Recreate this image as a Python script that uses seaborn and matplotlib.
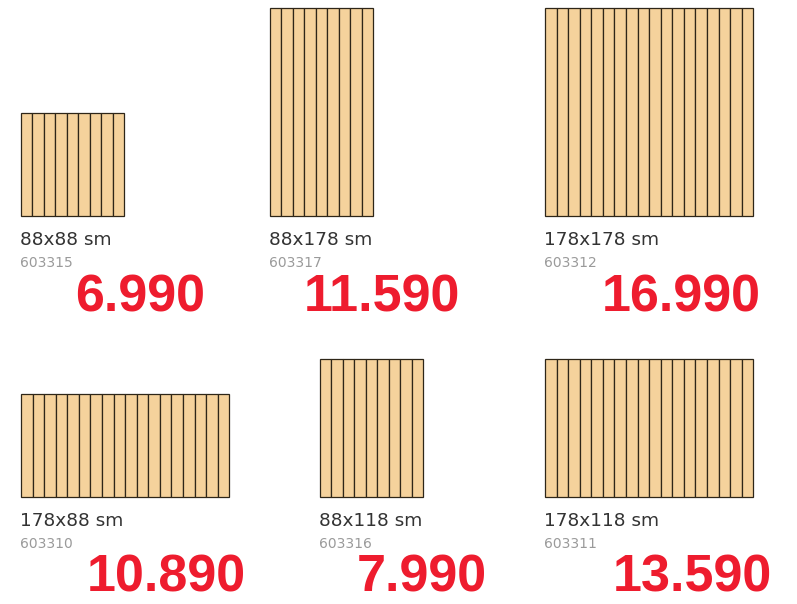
import matplotlib
matplotlib.use("Agg")
import matplotlib.pyplot as plt
import seaborn as sns

# panel data: width x height in cm, slat count, article code, price
widths = [88, 88, 178, 178, 88, 178]
heights = [88, 178, 178, 88, 118, 118]
slats = [9, 9, 18, 18, 9, 18]
codes = ["603315", "603317", "603312", "603310", "603316", "603311"]
prices = ["6.990", "11.590", "16.990", "10.890", "7.990", "13.590"]

# layout in pixels
PX_PER_CM = 103 / 88
lefts = [21, 270, 545, 21, 320, 545]
bottoms = [216, 216, 216, 497, 497, 497]
price_right = [205, 460, 761, 246, 487, 772]

sns.set_style("white")
plt.rcParams["font.family"] = ["DejaVu Sans"]

fig = plt.figure(figsize=(7.97, 6.04), dpi=100)
ax = fig.add_axes([0, 0, 1, 1])
ax.set_xlim(0, 797)
ax.set_ylim(604, 0)
ax.axis("off")

for w, h, n, code, price, x0, y0, pr in zip(
    widths, heights, slats, codes, prices, lefts, bottoms, price_right
):
    pw = w * PX_PER_CM
    ph = h * PX_PER_CM
    sw = pw / n
    xs = [x0 + i * sw for i in range(n)]
    ax.bar(xs, [ph] * n, width=sw, bottom=y0 - ph, align="edge",
           color="#F5D29C", edgecolor="#2e2618", linewidth=0.9)

    ax.text(x0 - 1, y0 + 29, f"{w}x{h} sm", fontsize=13.3, color="#333333",
            ha="left", va="baseline")
    ax.text(x0 - 1, y0 + 51, code, fontsize=10, color="#9a9a9a",
            ha="left", va="baseline")
    ax.text(pr, y0 + 95, price, fontsize=37.5, fontweight="bold",
            family="Liberation Sans", color="#EE1C2E",
            ha="right", va="baseline")

fig.savefig("out.png", dpi=100)
